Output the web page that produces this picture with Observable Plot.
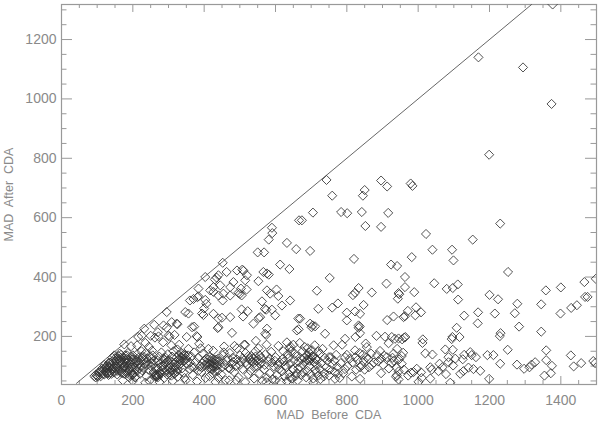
<!DOCTYPE html>
<html><head><meta charset="utf-8">
<style>html,body{margin:0;padding:0;background:#fff}svg{display:block}</style>
<script src="https://cdn.jsdelivr.net/npm/d3@7"></script>
<script src="https://cdn.jsdelivr.net/npm/@observablehq/plot@0.6"></script>
</head><body><div id="chart"></div>
<script>
const xLabel = "MAD  Before  CDA";
const yLabel = "MAD  After  CDA";
const xMajor = [0,200,400,600,800,1000,1200,1400];
const yMajor = [200,400,600,800,1000,1200];
const xMinor = [50,100,150,250,300,350,450,500,550,650,700,750,850,900,950,1050,1100,1150,1250,1300,1350,1450];
const yMinor = [50,100,150,250,300,350,450,500,550,650,700,750,850,900,950,1050,1100,1150,1250,1300];
const xDomain = [0,1500];
const yDomain = [38,1318];
const identityLine = [42,1318];

const topScatter = [[1169,1140],[1294,1106],[1374,983],[1199,812],[1377,1318],[743,727],[759,674],[850,693],[845,674],[896,725],[913,705],[979,715],[984,707],[705,617],[784,619],[801,615],[842,619],[916,616],[674,591],[666,591],[1230,580],[852,572],[896,569],[1022,545],[1153,526],[590,566],[591,548],[581,526]];
const midScatter = [[697,488],[1040,492],[1095,492],[1099,456],[820,461],[982,467],[924,442],[941,437],[1252,417],[963,400],[752,397],[1045,379],[911,378],[1466,383],[1498,394],[716,354],[833,363],[823,347],[817,339],[870,348],[963,366],[945,346],[947,342],[943,327],[989,349],[1080,360],[1097,363],[1111,375],[1358,355],[1400,365],[1200,340],[1224,325],[1112,324],[1278,310],[1345,308],[1468,333],[1475,333],[1445,305],[1429,296],[720,293],[759,297],[775,311],[847,306],[800,280],[823,284],[837,276],[800,254],[913,255],[931,267],[959,265],[963,268],[971,286],[994,298],[992,271],[1008,281],[1168,281],[1215,277],[1271,278],[1399,277],[1129,270],[1167,244],[1108,229],[1283,233],[1345,216],[1231,211],[1229,201],[669,260],[697,243],[704,237],[711,234],[701,231],[833,237],[833,229],[836,233],[837,211],[824,198],[795,192],[739,209],[883,202],[907,199],[926,198],[945,193],[964,198],[961,196],[917,177],[1013,190],[1012,178],[1116,198],[1096,198],[1094,191],[955,190],[935,192]];
const leftScatter = [[550,483],[568,483],[632,515],[658,494],[613,442],[639,427],[452,448],[507,425],[510,421],[440,406],[435,398],[430,392],[403,400],[463,417],[520,406],[492,422],[552,386],[566,417],[576,412],[581,408],[515,389],[503,361],[519,358],[482,383],[473,366],[426,366],[417,355],[426,350],[445,372],[384,361],[360,321],[370,326],[384,335],[381,332],[403,323],[406,310],[400,294],[394,277],[398,272],[440,338],[454,344],[452,321],[473,338],[496,347],[505,338],[500,343],[576,355],[585,344],[603,358],[608,336],[641,321],[618,304],[562,318],[574,290],[570,293],[590,290],[599,271],[505,291],[522,285],[509,267],[538,243],[557,265],[553,262],[664,260],[576,226],[571,209],[574,205],[660,220],[665,224],[478,212],[440,231],[438,228],[426,276],[440,260],[450,263],[473,265],[347,282],[356,277],[295,282],[323,243],[325,241],[309,248],[366,231],[372,233],[379,201],[381,198],[351,198],[386,175],[295,229],[286,237],[260,239],[232,226],[215,198],[225,202],[176,173],[270,214],[250,202],[262,196],[272,200],[300,203],[303,199],[317,205],[195,167],[212,170],[235,178],[245,165],[285,180],[308,170],[330,172]];
const rightBand = [[763,170],[787,172],[823,153],[856,164],[853,176],[893,151],[941,158],[931,142],[1076,156],[1097,155],[1251,155],[1359,153],[1428,136],[1194,137],[1146,147],[1150,137],[1129,138],[1162,130],[1211,137],[1020,143],[1040,139],[1085,130],[1104,125],[1125,123],[1359,120],[1491,117],[1496,110],[1457,110],[1436,99],[1375,101],[1328,113],[1318,105],[1312,96],[1297,91],[1277,105],[1230,108],[1174,84],[1155,90],[1141,95],[1127,83],[1118,74],[1078,73],[1057,83],[1034,58],[1038,88],[1034,96],[1098,102],[1085,113],[1060,108],[1008,79],[996,91],[987,80],[980,78],[954,108],[896,76],[940,94],[945,82],[940,69],[938,64],[945,55],[1001,47],[1090,44],[1199,57],[1354,68],[1372,76],[706,44],[720,68],[735,65],[750,68],[767,57],[775,74],[814,65],[837,57],[870,104],[847,118],[842,102],[837,96],[826,88],[856,130],[860,124],[905,135],[896,125],[912,130],[885,137],[868,142],[800,138],[795,130],[808,125],[830,120],[845,138],[932,118],[954,134],[958,145],[925,110],[770,138],[755,130],[745,118],[760,105],[742,96],[728,110],[717,120],[703,132],[690,120],[676,105],[664,92],[695,100],[712,88],[773,98],[795,90],[783,110]];
const lowBandA = [[92,66],[96,62],[99,68],[102,64],[97,72],[106,70],[110,66],[105,78],[112,82],[116,74],[120,72],[118,88],[124,80],[126,86],[130,78],[128,92],[134,84],[136,96],[132,70],[140,74],[142,88],[138,104],[146,98],[148,108],[144,116],[150,84],[152,92],[156,72],[154,120],[158,126],[160,134],[163,142],[167,138],[165,114],[162,102],[170,106],[172,90],[168,80],[176,74],[178,98],[180,118],[174,128],[184,136],[186,144],[182,110],[188,84],[192,70],[190,62],[196,96],[198,122],[194,132],[202,108],[204,78],[206,62],[200,50],[210,92],[212,140],[216,128],[214,116],[220,74],[222,100],[224,150],[228,134],[230,120],[226,86],[234,108],[238,66],[236,144],[240,126],[244,88],[246,50],[250,112],[252,98],[256,136],[254,152],[260,120],[258,80],[264,68],[262,72],[268,66],[266,64],[272,70],[270,92],[274,132],[276,108],[280,146],[278,74],[284,118],[282,88],[288,60],[286,100],[292,128],[290,80],[296,72],[294,112],[298,140],[300,92],[304,78],[302,120],[308,68],[306,104],[312,86],[310,132],[316,74],[314,150],[320,96],[318,112],[324,82],[322,128],[328,138],[326,64],[332,118],[330,104],[336,144],[334,130],[340,134],[338,92],[344,140],[342,78],[348,52],[346,120],[352,108],[356,158],[360,90],[364,132],[368,70],[372,146],[376,114],[380,48],[384,128],[388,98]];
const lowBandB = [[392,80],[396,142],[400,118],[404,60],[408,104],[412,158],[416,130],[420,92],[424,76],[428,122],[432,46],[426,112],[436,116],[434,100],[440,126],[438,84],[444,106],[448,72],[452,136],[456,166],[460,52],[464,118],[468,94],[472,144],[476,108],[480,128],[484,80],[488,100],[492,160],[496,62],[500,136],[504,116],[508,90],[512,172],[516,144],[520,104],[524,72],[528,124],[532,134],[536,114],[540,96],[544,150],[548,118],[552,160],[556,108],[560,128],[564,50],[568,88],[572,140],[576,60],[580,116],[584,76],[588,148],[592,56],[596,98],[600,130],[604,70],[608,168],[612,112],[616,44],[620,124],[624,116],[628,102],[632,180],[636,126],[640,108],[644,150],[648,90],[652,120],[656,66],[660,132],[664,114],[668,178],[672,124],[676,150],[680,128],[684,116],[688,136],[692,128],[696,118],[700,126],[704,134],[708,112],[712,124],[716,104],[632,48],[660,76],[590,112],[515,46],[470,52],[440,60],[415,66],[395,110],[365,98],[345,60],[312,50],[275,46],[235,44],[200,72],[172,52],[530,84],[555,75],[610,90],[650,172],[690,160],[725,142],[738,128],[750,130],[765,118],[672,70],[640,160],[575,172],[545,185],[515,172],[485,168],[455,146],[425,152],[390,160],[355,136],[325,156]];
const lowBandC = [[122,94],[130,100],[136,112],[142,128],[148,136],[152,118],[156,108],[160,92],[164,84],[168,124],[172,112],[176,100],[180,86],[184,76],[188,122],[192,108],[196,80],[200,136],[204,124],[208,112],[212,84],[218,92],[222,118],[226,130],[232,96],[238,116],[242,104],[248,134],[252,124],[258,108],[264,92],[270,118],[274,78],[280,98],[286,126],[290,108],[294,88],[298,118],[302,100],[306,84],[310,114],[314,96],[318,76],[322,104],[326,90],[330,122],[334,108],[338,128],[342,116],[346,136],[350,124],[360,112],[372,96],[384,84],[394,96],[402,104],[406,126],[410,112],[414,92],[418,108],[422,126],[426,96],[430,84],[434,122],[438,104],[442,116],[450,96],[458,104],[466,128],[474,90],[482,114],[492,122],[500,104],[508,126],[516,112],[524,134],[530,118],[536,126],[540,110],[544,132],[548,100],[552,122],[556,136],[560,112],[570,104],[584,126],[598,118],[606,104],[618,82],[622,150],[626,66],[630,96],[634,140],[638,74],[642,166],[646,58],[650,88],[654,142],[662,52],[670,96],[678,78],[682,164],[686,62],[690,84],[694,146],[698,72],[702,154],[706,58],[710,170],[714,80],[720,150],[726,56],[732,158],[724,90],[738,76],[752,88],[766,80],[780,60],[790,76],[802,100],[816,112],[824,130],[836,144],[850,88],[862,96],[876,112],[888,116],[902,104],[918,92],[928,128],[946,122],[960,88],[972,68],[1010,60],[1068,96]];
const lowBandD = [[108,84],[114,92],[120,104],[126,100],[132,110],[128,76],[134,74],[138,80],[144,92],[148,78],[150,126],[154,98],[158,84],[162,118],[166,128],[170,76],[174,96],[178,136],[182,124],[186,100],[190,92],[194,114],[198,70],[202,96],[206,120],[208,64],[214,104],[262,66],[265,70],[268,72],[270,62],[416,104],[420,118],[424,100],[428,108],[422,88],[412,122],[600,52],[640,62],[574,46],[540,58],[490,52]];

const points = [...topScatter, ...midScatter, ...leftScatter, ...rightBand, ...lowBandA, ...lowBandB, ...lowBandC, ...lowBandD]
  .map(([before, after]) => ({before, after}));

const axisColor = "#8a8a8a";
const frameColor = "#999";
const perUnitY = 1 / 0.297, perUnitX = 1 / 0.3567;
const [y0, y1] = yDomain, [x0, x1] = xDomain;

const plot = Plot.plot({
  width: 600, height: 421,
  marginLeft: 61, marginRight: 4, marginTop: 4, marginBottom: 37,
  style: {fontFamily: "'Liberation Sans', sans-serif", background: "#fff"},
  x: {domain: xDomain},
  y: {domain: yDomain},
  marks: [
    Plot.axisX({ticks: xMajor, tickSize: 0, tickPadding: 11, tickFormat: d => String(d), fontSize: 14, color: axisColor, label: null}),
    Plot.axisY({ticks: yMajor, tickSize: 0, tickPadding: 5, tickFormat: d => String(d), fontSize: 14, color: axisColor, label: null}),
    Plot.text([xLabel], {text: d => d, frameAnchor: "bottom", dy: 34.5, fontSize: 12.5, fill: axisColor}),
    Plot.text([yLabel], {text: d => d, frameAnchor: "left", textAnchor: "middle", dx: -53, rotate: -90, fontSize: 12.5, fill: axisColor}),
    // major and minor ticks on all four sides, pointing inward
    Plot.ruleX(xMajor, {x: d => d, y1: y0, y2: y0 + 8 * perUnitY, stroke: frameColor}),
    Plot.ruleX(xMajor, {x: d => d, y1: y1, y2: y1 - 8 * perUnitY, stroke: frameColor}),
    Plot.ruleX(xMinor, {x: d => d, y1: y0, y2: y0 + 4 * perUnitY, stroke: frameColor}),
    Plot.ruleX(xMinor, {x: d => d, y1: y1, y2: y1 - 4 * perUnitY, stroke: frameColor}),
    Plot.ruleY(yMajor, {y: d => d, x1: x0, x2: x0 + 11 * perUnitX, stroke: frameColor}),
    Plot.ruleY(yMajor, {y: d => d, x1: x1, x2: x1 - 11 * perUnitX, stroke: frameColor}),
    Plot.ruleY(yMinor, {y: d => d, x1: x0, x2: x0 + 5.5 * perUnitX, stroke: frameColor}),
    Plot.ruleY(yMinor, {y: d => d, x1: x1, x2: x1 - 5.5 * perUnitX, stroke: frameColor}),
    Plot.frame({stroke: frameColor, strokeWidth: 1.2}),
    Plot.line(identityLine.map(v => ({v})), {x: "v", y: "v", stroke: "#555", strokeWidth: 0.9, clip: "frame"}),
    Plot.dot(points, {x: "before", y: "after", symbol: "diamond2", r: 4.1, stroke: "#333", strokeWidth: 0.85, fill: "none", clip: "frame"})
  ]
});
document.getElementById("chart").append(plot);
</script></body></html>
